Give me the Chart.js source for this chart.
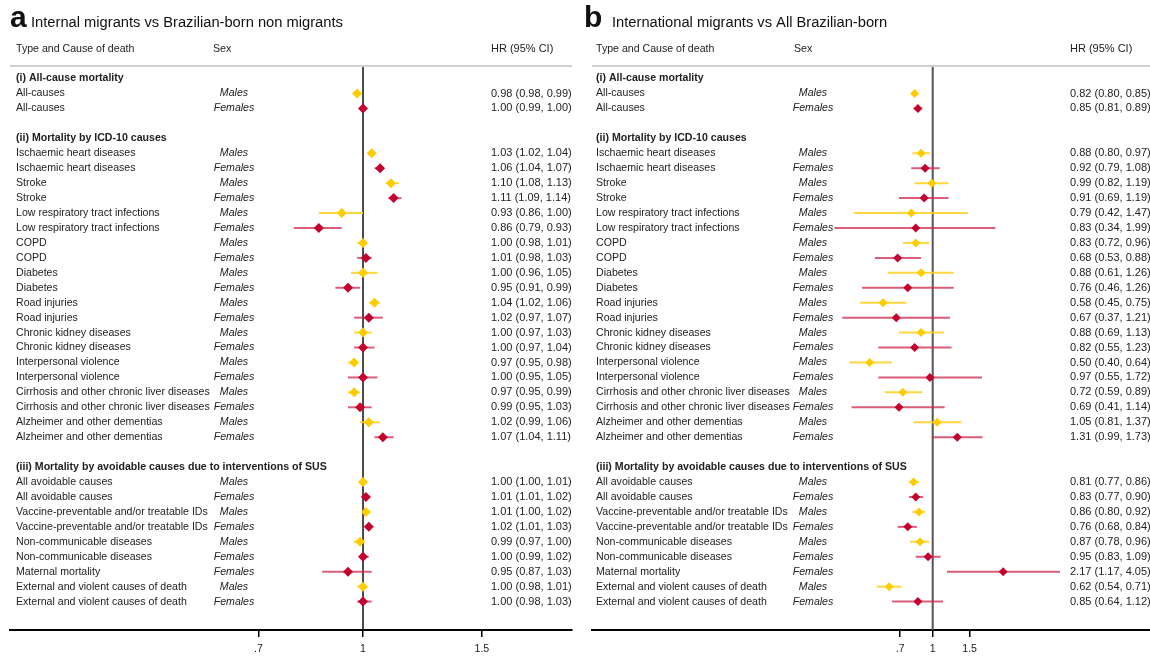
<!DOCTYPE html>
<html>
<head>
<meta charset="utf-8">
<script src="https://cdn.jsdelivr.net/npm/chart.js@4.4.1/dist/chart.umd.min.js"></script>
<style>
  html, body { margin: 0; padding: 0; background: #fff; }
  .wrap { display: flex; width: 1150px; height: 657px; }
  canvas { display: block; }
</style>
</head>
<body>
<div class="wrap">
  <canvas id="panelA" width="575" height="657"></canvas>
  <canvas id="panelB" width="575" height="657"></canvas>
</div>
<script>
const causes = [
    "(i) All-cause mortality",
    "All-causes", "All-causes",
    "",
    "(ii) Mortality by ICD-10 causes",
    "Ischaemic heart diseases", "Ischaemic heart diseases",
    "Stroke", "Stroke",
    "Low respiratory tract infections", "Low respiratory tract infections",
    "COPD", "COPD",
    "Diabetes", "Diabetes",
    "Road injuries", "Road injuries",
    "Chronic kidney diseases", "Chronic kidney diseases",
    "Interpersonal violence", "Interpersonal violence",
    "Cirrhosis and other chronic liver diseases", "Cirrhosis and other chronic liver diseases",
    "Alzheimer and other dementias", "Alzheimer and other dementias",
    "",
    "(iii) Mortality by avoidable causes due to interventions of SUS",
    "All avoidable causes", "All avoidable causes",
    "Vaccine-preventable and/or treatable IDs", "Vaccine-preventable and/or treatable IDs",
    "Non-communicable diseases", "Non-communicable diseases",
    "Maternal mortality",
    "External and violent causes of death", "External and violent causes of death"
];

const sexes = [
    "", "Males", "Females", "", "",
    "Males", "Females", "Males", "Females", "Males", "Females", "Males", "Females",
    "Males", "Females", "Males", "Females", "Males", "Females", "Males", "Females",
    "Males", "Females", "Males", "Females",
    "", "",
    "Males", "Females", "Males", "Females", "Males", "Females",
    "Females",
    "Males", "Females"
];

// panel a: internal migrants vs Brazilian-born non migrants
const hrA = [null, 0.98, 1.00, null, null, 1.03, 1.06, 1.10, 1.11, 0.93, 0.86, 1.00, 1.01, 1.00, 0.95, 1.04, 1.02, 1.00, 1.00, 0.97, 1.00, 0.97, 0.99, 1.02, 1.07, null, null, 1.00, 1.01, 1.01, 1.02, 0.99, 1.00, 0.95, 1.00, 1.00];
const loA = [null, 0.98, 0.99, null, null, 1.02, 1.04, 1.08, 1.09, 0.86, 0.79, 0.98, 0.98, 0.96, 0.91, 1.02, 0.97, 0.97, 0.97, 0.95, 0.95, 0.95, 0.95, 0.99, 1.04, null, null, 1.00, 1.01, 1.00, 1.01, 0.97, 0.99, 0.87, 0.98, 0.98];
const hiA = [null, 0.99, 1.00, null, null, 1.04, 1.07, 1.13, 1.14, 1.00, 0.93, 1.01, 1.03, 1.05, 0.99, 1.06, 1.07, 1.03, 1.04, 0.98, 1.05, 0.99, 1.03, 1.06, 1.11, null, null, 1.01, 1.02, 1.02, 1.03, 1.00, 1.02, 1.03, 1.01, 1.03];

// panel b: international migrants vs all Brazilian-born
const hrB = [null, 0.82, 0.85, null, null, 0.88, 0.92, 0.99, 0.91, 0.79, 0.83, 0.83, 0.68, 0.88, 0.76, 0.58, 0.67, 0.88, 0.82, 0.50, 0.97, 0.72, 0.69, 1.05, 1.31, null, null, 0.81, 0.83, 0.86, 0.76, 0.87, 0.95, 2.17, 0.62, 0.85];
const loB = [null, 0.80, 0.81, null, null, 0.80, 0.79, 0.82, 0.69, 0.42, 0.34, 0.72, 0.53, 0.61, 0.46, 0.45, 0.37, 0.69, 0.55, 0.40, 0.55, 0.59, 0.41, 0.81, 0.99, null, null, 0.77, 0.77, 0.80, 0.68, 0.78, 0.83, 1.17, 0.54, 0.64];
const hiB = [null, 0.85, 0.89, null, null, 0.97, 1.08, 1.19, 1.19, 1.47, 1.99, 0.96, 0.88, 1.26, 1.26, 0.75, 1.21, 1.13, 1.23, 0.64, 1.72, 0.89, 1.14, 1.37, 1.73, null, null, 0.86, 0.90, 0.92, 0.84, 0.96, 1.09, 4.05, 0.71, 1.12];

const tickValues = [0.7, 1, 1.5];
const tickLabels = [".7", "1", "1.5"];

const FONT = "'Liberation Sans', Arial, sans-serif";
const maleColor = "#ffcc00";
const femaleColor = "#c4002d";
const maleLine = "rgba(255, 208, 30, 0.85)";
const femaleLine = "rgba(205, 40, 75, 0.75)";

const forestPlugin = {
    id: "forest",
    beforeDatasetsDraw(chart, args, opts) {
        const { ctx, chartArea, scales: { x, y } } = chart;
        ctx.save();
        // reference line at HR = 1
        const x1 = x.getPixelForValue(1);
        ctx.strokeStyle = opts.refColor;
        ctx.lineWidth = opts.refWidth;
        ctx.beginPath();
        ctx.moveTo(x1, chartArea.top);
        ctx.lineTo(x1, chartArea.bottom);
        ctx.stroke();
        // confidence intervals
        ctx.lineWidth = 2;
        opts.hr.forEach((v, i) => {
            if (v === null) return;
            ctx.strokeStyle = sexes[i] === "Males" ? maleLine : femaleLine;
            ctx.beginPath();
            ctx.moveTo(x.getPixelForValue(opts.lo[i]), y.getPixelForValue(i));
            ctx.lineTo(x.getPixelForValue(opts.hi[i]), y.getPixelForValue(i));
            ctx.stroke();
        });
        ctx.restore();
    },
    afterDraw(chart, args, opts) {
        const { ctx, chartArea, scales: { y } } = chart;
        ctx.save();
        ctx.fillStyle = "#111";
        ctx.textBaseline = "alphabetic";
        ctx.font = "bold 30px " + FONT;
        ctx.fillText(opts.letter, opts.letterX, 27);
        ctx.font = "14.7px " + FONT;
        ctx.fillText(opts.title, opts.titleX, 27);

        ctx.fillStyle = "#222";
        ctx.textBaseline = "middle";
        ctx.font = "10.6px " + FONT;
        ctx.fillText("Type and Cause of death", opts.causeX, 49);
        ctx.fillText("Sex", opts.sexHeadX, 49);
        ctx.font = "11px " + FONT;
        ctx.fillText("HR (95% CI)", opts.hrX, 49);

        // separator under the header
        ctx.strokeStyle = "#cfcfcf";
        ctx.lineWidth = 2;
        ctx.beginPath();
        ctx.moveTo(chartArea.left, chartArea.top);
        ctx.lineTo(chartArea.right, chartArea.top);
        ctx.stroke();

        causes.forEach((label, i) => {
            const py = y.getPixelForValue(i);
            ctx.textAlign = "left";
            ctx.font = (label.startsWith("(") ? "bold " : "") + "10.6px " + FONT;
            ctx.fillText(label, opts.causeX, py);
            if (sexes[i]) {
                ctx.font = "italic 10.6px " + FONT;
                ctx.textAlign = "center";
                ctx.fillText(sexes[i], opts.sexX, py);
            }
            if (opts.hr[i] !== null) {
                ctx.font = "11px " + FONT;
                ctx.textAlign = "left";
                const txt = opts.hr[i].toFixed(2) + " (" + opts.lo[i].toFixed(2) + ", " + opts.hi[i].toFixed(2) + ")";
                ctx.fillText(txt, opts.hrX, py);
            }
        });
        ctx.restore();
    }
};

function createForest(id, panel) {
    const ctx = document.getElementById(id).getContext("2d");

    const pointsFor = (sex) => panel.hr
        .map((v, i) => ({ x: v, y: i }))
        .filter((p, i) => p.x !== null && sexes[i] === sex);

    return new Chart(ctx, {
        type: "scatter",
        data: {
            datasets: [
                {
                    label: "Males",
                    data: pointsFor("Males"),
                    pointStyle: "rectRot",
                    pointRadius: panel.radius,
                    backgroundColor: maleColor,
                    borderWidth: 0,
                },
                {
                    label: "Females",
                    data: pointsFor("Females"),
                    pointStyle: "rectRot",
                    pointRadius: panel.radius,
                    backgroundColor: femaleColor,
                    borderWidth: 0,
                },
            ],
        },
        options: {
            responsive: false,
            animation: false,
            layout: {
                autoPadding: false,
                padding: { top: 66, left: panel.padLeft, right: panel.padRight, bottom: -4.7 },
            },
            plugins: {
                legend: { display: false },
                tooltip: { enabled: false },
                forest: panel,
            },
            scales: {
                x: {
                    type: "logarithmic",
                    min: panel.xMin,
                    max: panel.xMax,
                    afterBuildTicks: (axis) => {
                        axis.ticks = tickValues.map((v) => ({ value: v }));
                    },
                    ticks: {
                        autoSkip: false,
                        maxRotation: 0,
                        padding: 6,
                        color: "#222",
                        font: { family: FONT, size: 10.6 },
                        callback: (value, index) => tickLabels[index],
                    },
                    grid: {
                        drawOnChartArea: false,
                        drawTicks: true,
                        tickLength: 7,
                        color: "#000",
                        lineWidth: 1.5,
                    },
                    border: { display: true, color: "#000", width: 2 },
                },
                y: {
                    type: "linear",
                    reverse: true,
                    min: -0.84,
                    max: 36.9,
                    display: false,
                },
            },
        },
        plugins: [forestPlugin],
    });
}

createForest("panelA", {
    hr: hrA, lo: loA, hi: hiA,
    letter: "a", title: "Internal migrants vs Brazilian-born non migrants",
    letterX: 10, titleX: 31,
    causeX: 16, sexHeadX: 213, sexX: 234, hrX: 491,
    padLeft: 10, padRight: 3,
    xMin: 0.3074, xMax: 2.0396,
    radius: 5,
    refColor: "#111", refWidth: 1.5,
});

createForest("panelB", {
    hr: hrB, lo: loB, hi: hiB,
    letter: "b", title: "International migrants vs All Brazilian-born",
    letterX: 9, titleX: 37,
    causeX: 21, sexHeadX: 219, sexX: 238, hrX: 495,
    padLeft: 17, padRight: 0,
    xMin: 0.02366, xMax: 10.89,
    radius: 4.5,
    refColor: "#555", refWidth: 2,
});
</script>
</body>
</html>
